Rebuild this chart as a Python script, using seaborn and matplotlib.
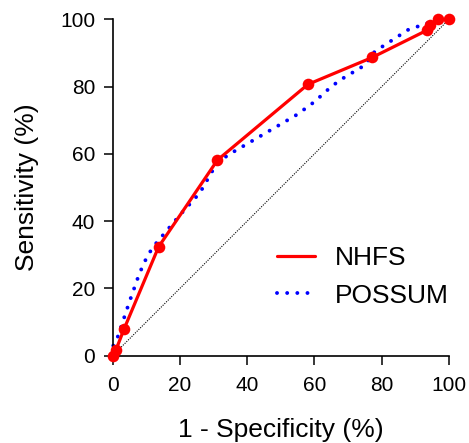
import matplotlib
matplotlib.use("Agg")
import matplotlib.pyplot as plt
import seaborn as sns
import pandas as pd

# ROC curve coordinates (percent)
nhfs_fpr = [0, 1.0, 3.4, 13.7, 31.2, 58.1, 77.2, 93.5, 94.4, 96.9, 100]
nhfs_tpr = [0, 1.7, 7.9, 32.4, 58.2, 80.7, 88.7, 96.8, 98.3, 100, 100]

possum_fpr = [0, 0.2, 1.5, 3.0, 5.0, 8.0, 10.5, 13.0, 20.0, 26.0, 30.0,
              34.0, 40.0, 55.0, 60.0, 65.0, 68.0, 75.0, 78.0, 88.0, 94.0, 100]
possum_tpr = [0, 3.0, 5.5, 10.0, 16.0, 24.5, 30.0, 33.5, 41.8, 48.5, 55.5,
              59.5, 63.0, 71.8, 75.5, 80.0, 82.2, 86.4, 90.5, 97.0, 99.0, 100]

ticks = [0, 20, 40, 60, 80, 100]

sns.set_style("ticks")
plt.rcParams["font.family"] = ["Liberation Sans", "DejaVu Sans"]
plt.rcParams["text.color"] = "black"
plt.rcParams["axes.labelcolor"] = "black"
plt.rcParams["xtick.color"] = "black"
plt.rcParams["ytick.color"] = "black"

nhfs = pd.DataFrame({"fpr": nhfs_fpr, "tpr": nhfs_tpr})
possum = pd.DataFrame({"fpr": possum_fpr, "tpr": possum_tpr})
chance = pd.DataFrame({"fpr": [0, 100], "tpr": [0, 100]})

fig = plt.figure(figsize=(4.69, 4.43), dpi=100)
ax = fig.add_axes([0.240, 0.197, 0.717, 0.759])

# chance line
sns.lineplot(data=chance, x="fpr", y="tpr", ax=ax, color="black",
             linewidth=0.8, linestyle=(0, (1, 1.2)), sort=False, estimator=None)

sns.lineplot(data=possum, x="fpr", y="tpr", ax=ax, color="#0000ff",
             linewidth=2.8, linestyle=(0, (0.01, 2.6)), dash_capstyle="round",
             sort=False, estimator=None, label="POSSUM", clip_on=False)

sns.lineplot(data=nhfs, x="fpr", y="tpr", ax=ax, color="#ff0000",
             linewidth=2.3, sort=False, estimator=None, label="NHFS",
             clip_on=False)
sns.scatterplot(data=nhfs, x="fpr", y="tpr", ax=ax, color="#ff0000", s=70,
                edgecolor="#ff0000", linewidth=0, clip_on=False, zorder=5)

ax.set_xlim(0, 100)
ax.set_ylim(0, 100)
ax.set_xticks(ticks)
ax.set_yticks(ticks)
ax.tick_params(labelsize=15, length=6.5, width=1.1, color="black",
               labelcolor="black")
ax.tick_params(axis="x", pad=8)
ax.tick_params(axis="y", pad=6)
for side in ["left", "bottom"]:
    ax.spines[side].set_linewidth(1.2)
    ax.spines[side].set_color("black")
sns.despine(ax=ax)

ax.set_xlabel("1 - Specificity (%)", fontsize=19, labelpad=17)
ax.set_ylabel("Sensitivity (%)", fontsize=19, labelpad=15)

handles, labels = ax.get_legend_handles_labels()
order = [labels.index("NHFS"), labels.index("POSSUM")]
ax.legend([handles[i] for i in order], [labels[i] for i in order],
          loc="center left", bbox_to_anchor=(0.489, 0.234), frameon=False,
          fontsize=19, handlelength=1.45, handletextpad=0.75,
          borderpad=0, borderaxespad=0, labelspacing=0.5)

fig.savefig("out.png", dpi=100)
